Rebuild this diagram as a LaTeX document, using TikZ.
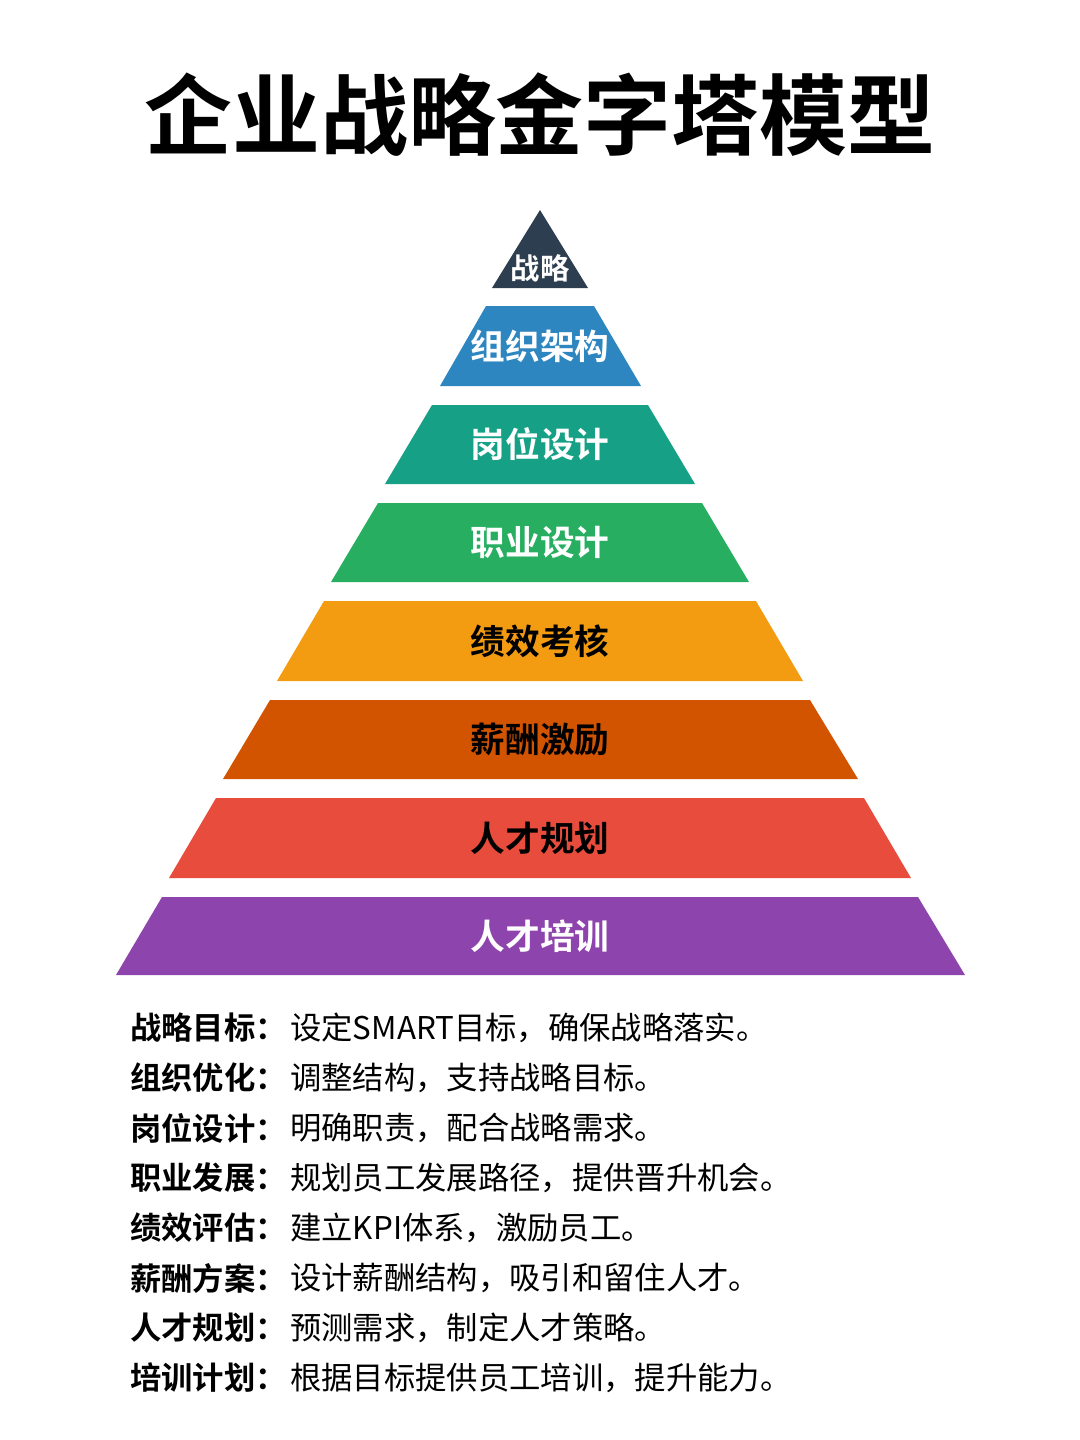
\documentclass[tikz,border=0pt]{standalone}
\usepackage{fontspec}
\newfontfamily\cjk{Noto Sans CJK SC}
\newfontfamily\cjkb{Noto Sans CJK SC Bold}
\definecolor{c1}{HTML}{2C3E50}
\definecolor{c2}{HTML}{2E86C1}
\definecolor{c3}{HTML}{16A085}
\definecolor{c4}{HTML}{27AE60}
\definecolor{c5}{HTML}{F39C12}
\definecolor{c6}{HTML}{D35400}
\definecolor{c7}{HTML}{E74C3C}
\definecolor{c8}{HTML}{8E44AD}
\tikzset{lab/.style={font=\cjkb\fontsize{26}{28}\selectfont},
 dk/.style={anchor=west,inner xsep=0pt,font=\cjkb\fontsize{23.5}{26}\selectfont},
 ds/.style={anchor=west,inner xsep=0pt,font=\cjk\fontsize{23.5}{26}\selectfont}}
\begin{document}
\begin{tikzpicture}[x=0.75pt,y=-0.75pt]
\useasboundingbox (0,0) rectangle (1080,1440);
\node[font=\cjkb\fontsize{66}{72}\selectfont] (title) at (540,115) {企业战略金字塔模型};
\fill[c1] (540,210) -- (588,288) -- (492,288) -- cycle;
\node[white,font=\cjkb\fontsize{22}{24}\selectfont] (l1) at (540,268) {战略};
\fill[c2] (486,306) -- (594,306) -- (641,386) -- (440,386) -- cycle;
\node[lab,white] (l2) at (540,346) {组织架构};
\fill[c3] (432,405) -- (648,405) -- (695,484) -- (385,484) -- cycle;
\node[lab,white] (l3) at (540,444) {岗位设计};
\fill[c4] (378,503) -- (702,503) -- (749,582) -- (331,582) -- cycle;
\node[lab,white] (l4) at (540,542) {职业设计};
\fill[c5] (324,601) -- (756,601) -- (803,681) -- (277,681) -- cycle;
\node[lab,black] (l5) at (540,641) {绩效考核};
\fill[c6] (270,700) -- (810,700) -- (858,779) -- (223,779) -- cycle;
\node[lab,black] (l6) at (540,739) {薪酬激励};
\fill[c7] (216,798) -- (864,798) -- (911,878) -- (169,878) -- cycle;
\node[lab,black] (l7) at (540,838) {人才规划};
\fill[c8] (162,897) -- (918,897) -- (965,975) -- (116,975) -- cycle;
\node[lab,white] (l8) at (540,936) {人才培训};
\foreach \k/\v [count=\i from 0] in {战略目标/设定SMART目标，确保战略落实。,组织优化/调整结构，支持战略目标。,岗位设计/明确职责，配合战略需求。,职业发展/规划员工发展路径，提供晋升机会。,绩效评估/建立KPI体系，激励员工。,薪酬方案/设计薪酬结构，吸引和留住人才。,人才规划/预测需求，制定人才策略。,培训计划/根据目标提供员工培训，提升能力。}{
 \node[dk] (k\i) at (130,{1028+50*\i}) {\k：};
 \node[ds] (v\i) at (290,{1028+50*\i}) {\v};
}
\end{tikzpicture}
\end{document}
